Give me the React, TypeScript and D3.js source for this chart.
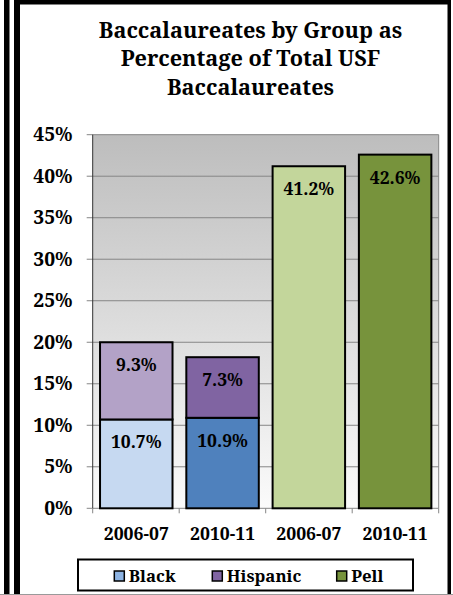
import React from "react";
import * as d3 from "d3";

const categories = ["2006-07", "2010-11", "2006-07", "2010-11"];
const blackValues: (number | null)[] = [10.7, 10.9, null, null];
const hispanicValues: (number | null)[] = [9.3, 7.3, null, null];
const pellValues: (number | null)[] = [null, null, 41.2, 42.6];
const yTicks = [0, 5, 10, 15, 20, 25, 30, 35, 40, 45];
const legendItems = ["Black", "Hispanic", "Pell"];
const titleLines = ["Baccalaureates by Group as", "Percentage of Total USF", "Baccalaureates"];

const blackColors = ["#c6d9f1", "#4f81bd", "", ""];
const hispanicColors = ["#b3a2c7", "#8064a2", "", ""];
const pellColors = ["", "", "#c3d69b", "#77933c"];
const legendColors = ["#8db3e2", "#8064a2", "#77933c"];

const W = 453;
const H = 595;
const plot = { left: 92.7, right: 438.7, top: 134.7, bottom: 508.3 };
const FONT = "Noto Serif";
const txt = (size: number): React.CSSProperties => ({
  fontFamily: FONT,
  fontWeight: "bold",
  fontSize: size,
});

export default function App() {
  const y = d3.scaleLinear().domain([0, 45]).range([plot.bottom, plot.top]);
  const x = d3
    .scaleBand<number>()
    .domain(categories.map((_, i) => i))
    .range([plot.left, plot.right])
    .paddingInner(0.16)
    .paddingOuter(0.085);
  const bw = x.bandwidth();
  const fmt = (v: number) => `${v.toFixed(1)}%`;

  const segments: { i: number; y0: number; y1: number; color: string; v: number }[] = [];
  categories.forEach((_, i) => {
    let base = 0;
    const b = blackValues[i];
    if (b != null) {
      segments.push({ i, y0: base, y1: base + b, color: blackColors[i], v: b });
      base += b;
    }
    const h = hispanicValues[i];
    if (h != null) {
      segments.push({ i, y0: base, y1: base + h, color: hispanicColors[i], v: h });
      base += h;
    }
    const p = pellValues[i];
    if (p != null) {
      segments.push({ i, y0: base, y1: base + p, color: pellColors[i], v: p });
      base += p;
    }
  });

  const legendX = [114.3, 212.3, 336.7];

  return (
    <svg width={W} height={H} style={{ position: "absolute", left: 0, top: 0, display: "block" }}>
      <defs>
        <linearGradient id="bg" x1="0" y1="0" x2="0" y2="1">
          <stop offset="0" stopColor="#bdbdbd" />
          <stop offset="1" stopColor="#fbfbfb" />
        </linearGradient>
      </defs>
      <rect x={0} y={0} width={W} height={H} fill="#ffffff" />
      {/* frames */}
      <rect x={4} y={0} width={5.5} height={H} fill="#000" />
      <rect x={14} y={0} width={6} height={H} fill="#000" />
      <rect x={14} y={0} width={437} height={4.5} fill="#000" />
      <rect x={447.5} y={0} width={3.5} height={594} fill="#000" />
      <line x1={0} x2={W} y1={594.5} y2={594.5} stroke="#9a9a9a" strokeWidth={1} />

      {/* title */}
      {titleLines.map((t, k) => (
        <text key={k} x={250.5} y={37.5 + k * 28.5} textAnchor="middle" fill="#000" style={txt(21.7)}>
          {t}
        </text>
      ))}

      {/* plot area */}
      <rect
        x={plot.left}
        y={plot.top}
        width={plot.right - plot.left}
        height={plot.bottom - plot.top}
        fill="url(#bg)"
      />
      {yTicks.map((t) => (
        <g key={t}>
          <line
            x1={plot.left - 6}
            x2={plot.right}
            y1={y(t)}
            y2={y(t)}
            stroke="#868686"
            strokeWidth={1}
          />
          <text x={72.5} y={y(t) + 6.5} textAnchor="end" fill="#000" style={txt(19.3)}>
            {t}%
          </text>
        </g>
      ))}
      <line x1={plot.right} x2={plot.right} y1={plot.top} y2={plot.bottom} stroke="#868686" strokeWidth={1} />
      <line x1={plot.left} x2={plot.left} y1={plot.top} y2={plot.bottom} stroke="#333" strokeWidth={1} />
      {/* category ticks */}
      {d3.range(categories.length + 1).map((k) => {
        const xx = plot.left + ((plot.right - plot.left) * k) / categories.length;
        return (
          <line key={k} x1={xx} x2={xx} y1={plot.bottom} y2={plot.bottom + 5} stroke="#868686" strokeWidth={1} />
        );
      })}

      {/* bars */}
      {segments.map((s, k) => (
        <rect
          key={k}
          x={x(s.i)!}
          y={y(s.y1)}
          width={bw}
          height={y(s.y0) - y(s.y1)}
          fill={s.color}
          stroke="#000"
          strokeWidth={2}
        />
      ))}
      {segments.map((s, k) => (
        <text
          key={"l" + k}
          x={x(s.i)! + bw / 2}
          y={y(s.y1) + 29}
          textAnchor="middle"
          fill="#000"
          style={txt(17.5)}
        >
          {fmt(s.v)}
        </text>
      ))}

      {/* x labels */}
      {categories.map((c, i) => (
        <text key={i} x={x(i)! + bw / 2} y={540} textAnchor="middle" fill="#000" style={txt(17.6)}>
          {c}
        </text>
      ))}

      {/* legend */}
      <rect x={78} y={559.5} width={335} height={31} fill="#fff" stroke="#000" strokeWidth={2} />
      {legendItems.map((l, k) => (
        <g key={l}>
          <rect
            x={legendX[k]}
            y={571}
            width={10}
            height={10}
            fill={legendColors[k]}
            stroke="#000"
            strokeWidth={1.5}
          />
          <text x={legendX[k] + 14.5} y={581.5} fill="#000" style={txt(16.8)}>
            {l}
          </text>
        </g>
      ))}
    </svg>
  );
}
